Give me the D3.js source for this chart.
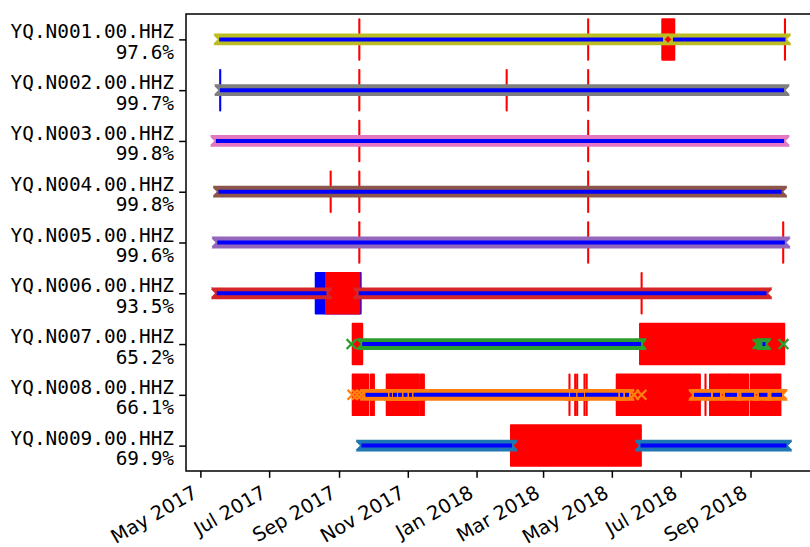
<!DOCTYPE html>
<html>
<head>
<meta charset="utf-8">
<script src="https://cdn.jsdelivr.net/npm/d3@7"></script>
<style>
  html, body { margin: 0; padding: 0; background: #fff; }
  svg { display: block; }
</style>
</head>
<body>
<svg id="chart" width="810" height="547"></svg>
<script>
// Channels, top to bottom, with their percentage of data availability
const channels = [
  "YQ.N001.00.HHZ", "YQ.N002.00.HHZ", "YQ.N003.00.HHZ",
  "YQ.N004.00.HHZ", "YQ.N005.00.HHZ", "YQ.N006.00.HHZ",
  "YQ.N007.00.HHZ", "YQ.N008.00.HHZ", "YQ.N009.00.HHZ"
];
const availability = [97.6, 99.7, 99.8, 99.8, 99.6, 93.5, 65.2, 66.1, 69.9];

// Continuous data runs per channel (UTC, hour resolution)
const dataRuns = [
  [["2017-05-17T18", "2018-06-15T10"], ["2018-06-24T05", "2018-10-02T00"]],
  [["2017-05-18T09", "2018-09-30T17"]],
  [["2017-05-14T19", "2018-09-30T17"]],
  [["2017-05-17T02", "2018-09-28T14"]],
  [["2017-05-16T00", "2018-10-01T10"]],
  [["2017-05-15T12", "2017-08-20T20"], ["2017-09-18T10", "2018-09-15T05"]],
  [["2017-09-21T15", "2018-05-26T20"], ["2018-09-11T15", "2018-09-14T07"]],
  [["2017-09-24T11", "2017-10-14T10"], ["2017-10-15T18", "2017-10-17T23"],
   ["2017-10-18T20", "2017-10-22T10"], ["2017-10-23T07", "2017-10-26T20"],
   ["2017-10-28T04", "2017-10-31T17"], ["2017-11-02T01", "2017-11-04T17"],
   ["2017-11-06T01", "2018-03-23T23"], ["2018-03-24T21", "2018-03-30T09"],
   ["2018-03-31T14", "2018-04-06T07"], ["2018-04-07T04", "2018-05-06T17"],
   ["2018-05-08T05", "2018-05-11T04"], ["2018-05-12T16", "2018-05-16T05"],
   ["2018-07-12T21", "2018-07-27T23"], ["2018-07-29T17", "2018-08-04T22"],
   ["2018-08-09T09", "2018-08-20T00"], ["2018-08-24T00", "2018-09-04T02"],
   ["2018-09-08T12", "2018-09-16T01"], ["2018-09-19T15", "2018-09-28T22"]],
  [["2017-09-20T22", "2018-02-01T10"], ["2018-05-26T10", "2018-10-02T22"]]
];

// Isolated trace starts that are not part of a longer run
const traceStarts = [
  [], [], [], [], [], [],
  ["2017-09-12T01", "2018-09-07T09", "2018-09-09T20", "2018-09-30T06"],
  ["2017-09-12T22", "2017-09-16T22", "2017-09-20T22", "2018-05-20T15", "2018-05-27T07"],
  []
];

// Gaps (drawn red)
const gapSpans = [
  [["2017-09-18T22", "2017-09-19T02"], ["2018-04-09T22", "2018-04-10T02"],
   ["2018-06-14T17", "2018-06-25T10"], ["2018-10-01T12", "2018-10-01T16"]],
  [["2017-09-18T22", "2017-09-19T02"], ["2018-01-27T15", "2018-01-27T19"],
   ["2018-04-09T22", "2018-04-10T02"]],
  [["2017-09-18T22", "2017-09-19T02"], ["2018-04-09T22", "2018-04-10T02"]],
  [["2017-08-24T12", "2017-08-24T16"], ["2017-09-18T22", "2017-09-19T02"],
   ["2018-04-09T22", "2018-04-10T02"]],
  [["2017-09-18T22", "2017-09-19T02"], ["2018-04-09T22", "2018-04-10T02"],
   ["2018-09-29T22", "2018-09-30T02"]],
  [["2017-08-20T10", "2017-09-19T02"], ["2018-05-27T08", "2018-05-27T12"]],
  [["2017-09-13T02", "2017-09-21T15"], ["2018-05-25T23", "2018-09-30T23"]],
  [["2017-09-13T02", "2017-09-26T23"], ["2017-09-29T02", "2017-10-02T00"],
   ["2017-10-13T06", "2017-11-10T22"], ["2017-11-12T10", "2017-11-15T08"],
   ["2018-03-24T08", "2018-03-24T12"], ["2018-03-29T10", "2018-03-29T14"],
   ["2018-03-31T04", "2018-03-31T08"], ["2018-04-06T16", "2018-04-06T20"],
   ["2018-04-08T14", "2018-04-08T18"], ["2018-05-05T07", "2018-07-18T04"],
   ["2018-07-23T00", "2018-07-23T04"], ["2018-07-27T01", "2018-08-12T07"],
   ["2018-08-12T18", "2018-08-30T01"], ["2018-09-01T04", "2018-09-24T05"],
   ["2018-09-24T18", "2018-09-27T14"]],
  [["2018-01-31T12", "2018-05-26T19"]]
];

// Overlaps (drawn blue)
const overlapSpans = [
  [], [["2017-05-18T12", "2017-05-18T16"]], [], [], [],
  [["2017-08-11T07", "2017-09-20T05"]], [], [], []
];

// Time axis limits
const timeLimits = ["2017-04-18T06", "2018-10-24T16"];

const parse = d3.utcParse("%Y-%m-%dT%H");
const svg = d3.select("#chart");

const frame = { left: 186, right: 811, top: 14, bottom: 471 };
const x = d3.scaleUtc().domain(timeLimits.map(parse)).range([frame.left, frame.right]);
const y = d3.scalePoint().domain(channels).range([frame.top, frame.bottom]).padding(0.5);
const step = y.step();
const colourOf = i => d3.schemeCategory10[channels.length - 1 - i];

const half = 5.9;    // half height of the trace band
const arm = 4.9;     // half size of the x marker
const xs = s => x(parse(s));

const gSpans = svg.append("g");
const gBands = svg.append("g");
const gLines = svg.append("g");

channels.forEach((id, i) => {
  const cy = y(id);
  const col = colourOf(i);

  // overlaps first, gaps above them
  [[overlapSpans[i], "#0000ff"], [gapSpans[i], "#ff0000"]].forEach(([spans, fill]) => {
    gSpans.selectAll(null).data(spans).enter().append("rect")
      .attr("x", d => xs(d[0]))
      .attr("width", d => Math.max(0, xs(d[1]) - xs(d[0])))
      .attr("y", cy - 0.4 * step)
      .attr("height", 0.8 * step)
      .attr("fill", fill)
      .attr("stroke", fill)
      .attr("stroke-width", 1.9)
      .attr("stroke-linejoin", "round");
  });

  // band of trace-start markers for every data run
  gBands.selectAll(null).data(dataRuns[i]).enter().append("path")
    .attr("d", d => {
      const a = xs(d[0]), b = xs(d[1]);
      return `M${a - half},${cy - half}L${b + half},${cy - half}L${b},${cy}` +
             `L${b + half},${cy + half}L${a - half},${cy + half}L${a},${cy}Z`;
    })
    .attr("fill", col);

  const crossAt = c =>
    `M${c - arm},${cy - arm}L${c + arm},${cy + arm}M${c - arm},${cy + arm}L${c + arm},${cy - arm}`;

  const ends = dataRuns[i].flatMap(d => [d[0], d[1]]).concat(traceStarts[i]);
  gBands.selectAll(null).data(ends).enter().append("path")
    .attr("d", d => crossAt(xs(d)))
    .attr("fill", "none")
    .attr("stroke", col)
    .attr("stroke-width", 2.3);

  // data coverage line
  gLines.selectAll(null).data(dataRuns[i]).enter().append("line")
    .attr("x1", d => xs(d[0]))
    .attr("x2", d => xs(d[1]))
    .attr("y1", cy).attr("y2", cy)
    .attr("stroke", "#0000ff")
    .attr("stroke-width", 4);
});

// Frame
const axesStroke = 1.5;
svg.append("rect")
  .attr("x", frame.left).attr("y", frame.top)
  .attr("width", frame.right - frame.left)
  .attr("height", frame.bottom - frame.top)
  .attr("fill", "none").attr("stroke", "#000").attr("stroke-width", axesStroke);

// Time axis
const xAxis = svg.append("g")
  .attr("transform", `translate(0,${frame.bottom})`)
  .call(d3.axisBottom(x)
    .ticks(d3.utcMonth.every(2))
    .tickFormat(d3.utcFormat("%b %Y"))
    .tickSize(6.8));
xAxis.select(".domain").remove();
xAxis.selectAll(".tick line").attr("stroke", "#000").attr("stroke-width", axesStroke);
xAxis.selectAll(".tick text")
  .attr("x", 0).attr("y", 0).attr("dy", null)
  .attr("text-anchor", "end")
  .attr("transform", "translate(-2.3,25.5) rotate(-30)")
  .attr("fill", "#000")
  .style("font-family", "'DejaVu Sans', sans-serif")
  .style("font-size", "19.4px");

// Channel axis with two-line labels
const yAxis = svg.append("g")
  .attr("transform", `translate(${frame.left},0)`)
  .call(d3.axisLeft(y).tickSize(6.8));
yAxis.select(".domain").remove();
yAxis.selectAll(".tick line").attr("stroke", "#000").attr("stroke-width", axesStroke);
yAxis.selectAll(".tick text").each(function(d) {
  const t = d3.select(this).text(null)
    .attr("x", null).attr("dy", null)
    .attr("text-anchor", "end")
    .attr("fill", "#000")
    .style("font-family", "'DejaVu Sans Mono', monospace")
    .style("font-size", "19.4px");
  const i = channels.indexOf(d);
  t.append("tspan").attr("x", -12).attr("y", -1.5).text(d);
  t.append("tspan").attr("x", -12).attr("y", 19).text(availability[i].toFixed(1) + "%");
});
</script>
</body>
</html>
